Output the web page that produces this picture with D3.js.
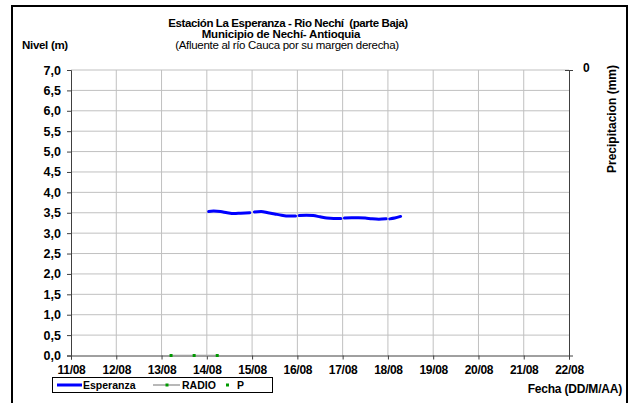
<!DOCTYPE html>
<html><head><meta charset="utf-8">
<script src="https://cdn.jsdelivr.net/npm/d3@7/dist/d3.min.js"></script>
<style>
body{margin:0;background:#fff;}
svg{display:block;font-family:"Liberation Sans",Arial,sans-serif;}
</style></head>
<body><svg id="c" width="629" height="403"></svg>
<script>
// ---- data ----
const dayTicks = [11,12,13,14,15,16,17,18,19,20,21,22];
const dayLabels = ["11/08","12/08","13/08","14/08","15/08","16/08","17/08","18/08","19/08","20/08","21/08","22/08"];
const levelTicks = [0,0.5,1,1.5,2,2.5,3,3.5,4,4.5,5,5.5,6,6.5,7];
const precipTicks = [0];
// Esperanza level (m); null = gap in record
const esperanzaDays = [14.04,14.15,14.3,14.45,14.6,14.75,14.95,15.0,15.05,15.2,15.35,15.5,15.65,15.8,15.96,16.0,16.04,16.2,16.35,16.5,16.65,16.8,16.96,17.0,17.04,17.2,17.35,17.5,17.65,17.8,17.96,18.0,18.04,18.15,18.28];
const esperanzaLevels = [3.53,3.54,3.53,3.50,3.48,3.49,3.50,null,3.52,3.53,3.50,3.47,3.44,3.42,3.42,null,3.43,3.44,3.43,3.40,3.37,3.36,3.36,null,3.37,3.38,3.38,3.37,3.35,3.34,3.35,null,3.35,3.37,3.41];
const radioDays = [13.21,13.72,14.23];
const radioLevels = [0,0,0];

const svg = d3.select("#c");
const L=71, R=569, T=70, B=355.5;
const x = d3.scaleLinear().domain([11,22]).range([L,R]);
const y = d3.scaleLinear().domain([0,7]).range([B,T]);
const yP = d3.scaleLinear().domain([0,1]).range([T,B]);

// outer frame (bottom edge lies outside the picture)
svg.append("rect").attr("x",12).attr("y",6).attr("width",615).attr("height",410)
  .attr("fill","none").attr("stroke","#000").attr("stroke-width",2);

// grid
const g = svg.append("g");
g.selectAll("line.h").data(levelTicks.filter(v=>v>0)).join("line")
  .attr("x1",L).attr("x2",R).attr("y1",d=>y(d)).attr("y2",d=>y(d))
  .attr("stroke","#c0c0c0").attr("stroke-width",1);
g.selectAll("line.v").data(dayTicks.slice(1,-1)).join("line")
  .attr("y1",T).attr("y2",B).attr("x1",d=>x(d)).attr("x2",d=>x(d))
  .attr("stroke","#c0c0c0").attr("stroke-width",1);

// axes
const ax = svg.append("g").attr("transform",`translate(0,${B})`)
  .call(d3.axisBottom(x).tickValues(dayTicks).tickFormat((d,i)=>dayLabels[i]).tickSize(4).tickPadding(6));
const ay = svg.append("g").attr("transform",`translate(${L},0)`)
  .call(d3.axisLeft(y).tickValues(levelTicks).tickFormat(d=>d3.format(".1f")(d).replace(".",",")).tickSize(4).tickPadding(6));
const ap = svg.append("g").attr("transform",`translate(${R},0)`)
  .call(d3.axisRight(yP).tickValues(precipTicks).tickFormat(d3.format("d")).tickSize(4).tickPadding(10));
ap.selectAll(".tick").append("line").attr("x1",-4).attr("x2",0).attr("stroke","#404040");
[ax,ay,ap].forEach(a=>{
  a.select(".domain").attr("stroke","#404040");
  a.selectAll(".tick line").attr("stroke","#404040");
  a.selectAll("text").attr("font-size",12).attr("font-weight","bold").attr("fill","#000");
});
ay.selectAll("text").attr("font-size",12.5);
ax.selectAll("text").attr("letter-spacing","-0.3");
ap.selectAll("text").attr("dy","0.1em");

// series
const line = d3.line().defined(d=>d[1]!==null).x(d=>x(d[0])).y(d=>y(d[1])).curve(d3.curveMonotoneX);
svg.append("path").datum(esperanzaDays.map((d,i)=>[d,esperanzaLevels[i]]))
  .attr("d",line).attr("fill","none").attr("stroke","#0000ff").attr("stroke-width",3).attr("stroke-linecap","round");
const rad = radioDays.map((d,i)=>[d,radioLevels[i]]);
svg.append("path").datum(rad).attr("d",d3.line().x(d=>x(d[0])).y(d=>y(d[1])))
  .attr("fill","none").attr("stroke","#a0a0a0").attr("stroke-width",1.5);
svg.selectAll("rect.rd").data(rad).join("rect")
  .attr("x",d=>x(d[0])-1.5).attr("y",d=>y(d[1])-1.5).attr("width",3).attr("height",3).attr("fill","#009900");

// titles
const t = svg.append("g").attr("font-size",11.5).attr("text-anchor","middle");
t.append("text").attr("x",288).attr("y",27).attr("font-weight","bold").attr("letter-spacing","-0.4")
  .attr("xml:space","preserve").text("Estación La Esperanza - Rio Nechí  (parte Baja)");
t.append("text").attr("x",281).attr("y",38).attr("font-weight","bold").attr("letter-spacing","-0.2").text("Municipio de Nechí- Antioquia");
t.append("text").attr("x",287).attr("y",49).attr("letter-spacing","-0.3").text("(Afluente al río Cauca por su margen derecha)");
svg.append("text").attr("x",22).attr("y",49).attr("font-size",11.5).attr("font-weight","bold").attr("letter-spacing","-0.3").text("Nivel (m)");
svg.append("text").attr("transform","translate(616,119) rotate(-90)").attr("text-anchor","middle")
  .attr("font-size",12).attr("font-weight","bold").text("Precipitacion (mm)");
svg.append("text").attr("x",622).attr("y",393).attr("text-anchor","end")
  .attr("font-size",12).attr("font-weight","bold").attr("letter-spacing","-0.2").text("Fecha (DD/M/AA)");

// legend
const lg = svg.append("g");
lg.append("rect").attr("x",52.5).attr("y",377.5).attr("width",220).attr("height",15).attr("fill","#fff").attr("stroke","#000");
lg.append("line").attr("x1",57).attr("x2",82).attr("y1",385).attr("y2",385).attr("stroke","#0000ff").attr("stroke-width",3);
lg.append("text").attr("x",83).attr("y",389).text("Esperanza");
lg.append("line").attr("x1",153).attr("x2",180).attr("y1",385).attr("y2",385).attr("stroke","#a0a0a0").attr("stroke-width",1.5);
lg.append("rect").attr("x",165.5).attr("y",383.5).attr("width",3).attr("height",3).attr("fill","#009900");
lg.append("text").attr("x",182).attr("y",389).text("RADIO");
lg.append("rect").attr("x",226).attr("y",383.5).attr("width",3).attr("height",3).attr("fill","#009900");
lg.append("text").attr("x",237).attr("y",389).text("P");
lg.selectAll("text").attr("font-size",10.5).attr("font-weight","bold");
</script></body></html>
